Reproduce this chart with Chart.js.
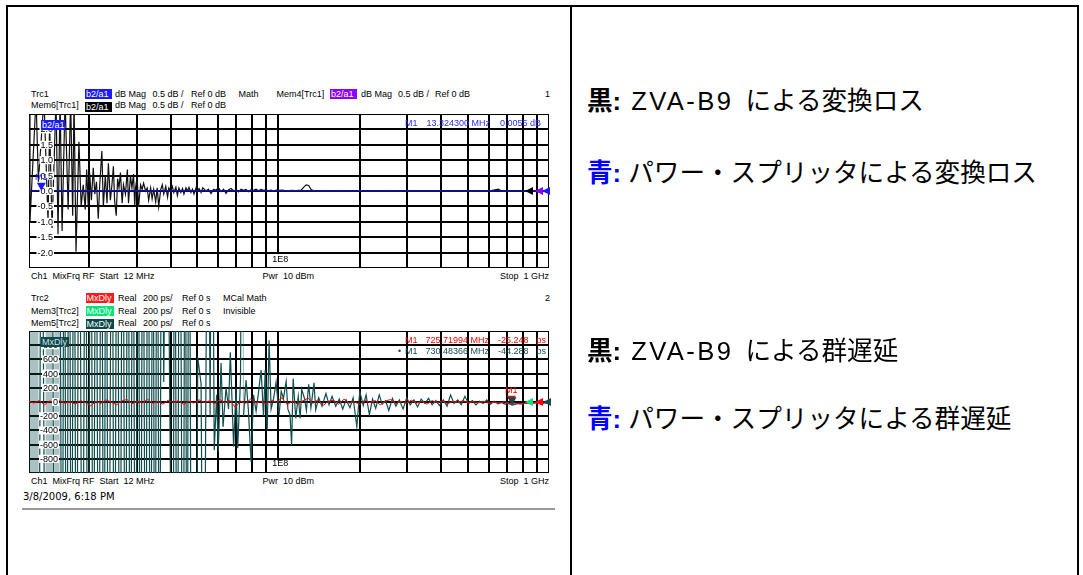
<!DOCTYPE html>
<html lang="ja">
<head>
<meta charset="utf-8">
<title>ZVA-B9 変換ロス / 群遅延</title>
<script src="https://cdn.jsdelivr.net/npm/chart.js@4.4.1/dist/chart.umd.min.js"></script>
<style>
  html, body { margin: 0; padding: 0; background: #fff; }
  body { position: relative; width: 1083px; height: 575px; overflow: hidden; font-family: "Liberation Sans", Arial, sans-serif; }
  .frame { position: absolute; left: 6px; top: 5px; width: 1069px; height: 600px; border: 2px solid #000; }
  .divider { position: absolute; left: 570px; top: 5px; width: 2px; height: 580px; background: #000; }
  .t { position: absolute; font-size: 9px; line-height: 11px; white-space: pre; color: #000; }
  .tag { position: absolute; font-size: 9px; line-height: 10px; height: 10px; color: #fff; padding: 0 1px; overflow: hidden; white-space: pre; }
  .date { position: absolute; left: 23px; top: 491px; font: 10px "DejaVu Sans", sans-serif; line-height: 12px; }
  .rule { position: absolute; left: 22px; top: 508px; width: 533px; height: 2px; background: #999; }
  canvas { position: absolute; }
  .jp { position: absolute; left: 587px; font-family: "Liberation Sans", "Noto Sans CJK JP", sans-serif; font-size: 25.6px; line-height: 30px; white-space: nowrap; color: #000; }
  .jp b { font-weight: bold; }
  .lat { letter-spacing: 2.4px; margin-left: 3px; margin-right: 5px; }
</style>
</head>
<body>
<div class="frame"></div>
<div class="divider"></div>

<!-- channel 1 header -->
<div class="t" style="left:31px;top:88.5px">Trc1</div>
<div class="tag" style="left:85px;top:89px;width:25px;background:#1a1aff">b2/a1</div>
<div class="t" style="left:115px;top:88.5px">dB Mag</div>
<div class="t" style="left:152.5px;top:88.5px">0.5 dB /</div>
<div class="t" style="left:191px;top:88.5px">Ref 0 dB</div>
<div class="t" style="left:238.5px;top:88.5px">Math</div>
<div class="t" style="left:276.5px;top:88.5px">Mem4[Trc1]</div>
<div class="tag" style="left:330px;top:89px;width:25px;background:#8c00ff">b2/a1</div>
<div class="t" style="left:361px;top:88.5px">dB Mag</div>
<div class="t" style="left:398px;top:88.5px">0.5 dB /</div>
<div class="t" style="left:435px;top:88.5px">Ref 0 dB</div>
<div class="t" style="left:545px;top:88.5px">1</div>
<div class="t" style="left:31px;top:100px">Mem6[Trc1]</div>
<div class="tag" style="left:85px;top:101.5px;width:25px;background:#000">b2/a1</div>
<div class="t" style="left:115px;top:100px">dB Mag</div>
<div class="t" style="left:152.5px;top:100px">0.5 dB /</div>
<div class="t" style="left:191px;top:100px">Ref 0 dB</div>

<div class="t" style="left:31px;top:271px">Ch1  MixFrq RF  Start  12 MHz</div>
<div class="t" style="left:262.5px;top:271px">Pwr  10 dBm</div>
<div class="t" style="right:534px;top:271px">Stop  1 GHz</div>

<!-- channel 2 header -->
<div class="t" style="left:31px;top:292.5px">Trc2</div>
<div class="tag" style="left:85.5px;top:293px;width:26px;background:#ff1a1a">MxDly</div>
<div class="t" style="left:118px;top:292.5px">Real</div>
<div class="t" style="left:143px;top:292.5px">200 ps/</div>
<div class="t" style="left:182px;top:292.5px">Ref 0 s</div>
<div class="t" style="left:223px;top:292.5px">MCal Math</div>
<div class="t" style="left:545px;top:292.5px">2</div>
<div class="t" style="left:31px;top:305.5px">Mem3[Trc2]</div>
<div class="tag" style="left:85.5px;top:306px;width:26px;background:#00e676">MxDly</div>
<div class="t" style="left:118px;top:305.5px">Real</div>
<div class="t" style="left:143px;top:305.5px">200 ps/</div>
<div class="t" style="left:182px;top:305.5px">Ref 0 s</div>
<div class="t" style="left:223px;top:305.5px">Invisible</div>
<div class="t" style="left:31px;top:318px">Mem5[Trc2]</div>
<div class="tag" style="left:85.5px;top:318.5px;width:26px;background:#0b4a4a">MxDly</div>
<div class="t" style="left:118px;top:318px">Real</div>
<div class="t" style="left:143px;top:318px">200 ps/</div>
<div class="t" style="left:182px;top:318px">Ref 0 s</div>

<div class="t" style="left:31px;top:476px">Ch1  MixFrq RF  Start  12 MHz</div>
<div class="t" style="left:262.5px;top:476px">Pwr  10 dBm</div>
<div class="t" style="right:534px;top:476px">Stop  1 GHz</div>
<div class="date">3/8/2009, 6:18 PM</div>
<div class="rule"></div>

<canvas id="lossScreen" width="532" height="166" style="left:23px;top:108px;width:532px;height:166px"></canvas>
<canvas id="delayScreen" width="532" height="154" style="left:23px;top:325px;width:532px;height:154px"></canvas>

<!-- in-grid annotations -->
<div class="tag" style="left:41px;top:119.5px;width:22px;background:#1a1aff">b2/a1</div>
<div class="t" style="left:405px;top:117.5px;color:#2b2bff">M1</div>
<div class="t" style="left:426.5px;top:117.5px;color:#2b2bff">13.324300 MHz</div>
<div class="t" style="left:500px;top:117.5px;color:#2b2bff">0.0055 dB</div>

<div class="tag" style="left:41px;top:336.5px;width:26px;background:#0b4a4a;color:#dde">MxDly</div>
<div class="t" style="left:405px;top:334.5px;color:#ff0000">M1</div>
<div class="t" style="left:425.5px;top:334.5px;color:#ff0000">725.71994 MHz</div>
<div class="t" style="left:498px;top:334.5px;color:#ff0000">-25.248</div>
<div class="t" style="left:536.5px;top:334.5px;color:#ff0000">ps</div>
<div class="t" style="left:398px;top:346px;color:#0e4e4e">•</div>
<div class="t" style="left:405px;top:346px;color:#0e4e4e">M1</div>
<div class="t" style="left:425.5px;top:346px;color:#0e4e4e">730.48366 MHz</div>
<div class="t" style="left:498px;top:346px;color:#0e4e4e">-44.288</div>
<div class="t" style="left:536.5px;top:346px;color:#0e4e4e">ps</div>

<!-- legend text -->
<div class="jp" style="top:86px"><b>黒:</b> <span class="lat">ZVA-B9</span> による変換ロス</div>
<div class="jp" style="top:158px"><b style="color:#0000ff">青:</b> パワー・スプリッタによる変換ロス</div>
<div class="jp" style="top:336px"><b>黒:</b> <span class="lat">ZVA-B9</span> による群遅延</div>
<div class="jp" style="top:404px"><b style="color:#0000ff">青:</b> パワー・スプリッタによる群遅延</div>

<script>
// sweep grid (MHz), log axis 12 MHz .. 1 GHz
const gridFreqMHz = [20, 30, 40, 50, 60, 70, 80, 90, 100, 200, 300, 400, 500, 600, 700, 800, 900];
const lossTicks = [2.0, 1.5, 1.0, 0.5, 0.0, -0.5, -1.0, -1.5, -2.0];
const delayTicks = [800, 600, 400, 200, 0, -200, -400, -600, -800];

// Trc1 b2/a1 (dB)
const trc1Freq = [12, 13.3243, 1000];
const trc1Loss = [0.0, 0.0055, 0.0];

// Mem6[Trc1] b2/a1 (dB)
const mem6Freq = [
  12.00, 12.10, 12.74, 13.00, 13.63, 14.11, 14.30, 14.60, 15.10, 15.36,
  15.63, 15.90, 16.31, 16.74, 17.10, 17.40, 17.60, 17.90, 18.35, 18.70,
  19.03, 19.36, 19.60, 19.86, 20.10, 20.40, 20.73, 21.00, 21.30, 21.63,
  21.90, 22.30, 22.58, 22.97, 23.30, 23.57, 23.97, 24.30, 24.60, 24.85,
  25.20, 25.50, 25.80, 26.12, 26.50, 26.80, 27.26, 27.70, 27.97, 28.45,
  28.80, 29.19, 29.50, 29.70, 30.10, 30.47, 31.00, 31.40, 31.80, 32.36,
  32.80, 33.20, 33.77, 34.20, 34.65, 35.25, 35.70, 36.17, 36.79, 37.30,
  37.75, 38.41, 39.00, 39.41, 40.09, 40.60, 41.13, 41.85, 42.40, 42.94,
  43.68, 44.30, 44.82, 45.59, 46.20, 46.78, 47.59, 48.20, 48.83, 49.67,
  50.30, 50.97, 51.85, 52.60, 54.11, 55.20, 56.46, 57.60, 58.91, 60.20,
  61.47, 62.80, 64.14, 65.50, 66.93, 68.40, 69.84, 71.30, 72.88, 74.40,
  76.04, 77.70, 79.35, 81.00, 82.80, 84.60, 86.40, 88.20, 90.15, 92.10,
  94.07, 96.10, 98.16, 100.7, 104.0, 106.9, 111.5, 116.4, 121.4, 124.0,
  126.7, 129.5, 132.2, 136.0, 144.0, 156.8, 170.7, 185.9, 202.4, 220.4,
  261.3, 309.9, 367.4, 435.6, 516.6, 612.5, 650.0, 667.0, 726.3, 861.2, 1000
];
const mem6Loss = [
  3.0, -1.0, 3.0, 0.3, 3.0, -1.0, 2.2, -1.2, 3.0, -1.4,
  3.0, -1.3, 3.0, -0.6, 3.0, -0.8, 3.0, -1.97, 1.6, -0.5,
  0.2, -0.6, 0.7, -0.5, 0.6, -0.3, 0.75, -0.1, 0.3, -0.9,
  0.2, 1.3, -0.5, 0.5, -0.4, 0.9, -0.3, 0.2, 0.8, -0.3,
  -0.8, 0.4, 0.1, 0.6, -0.4, 0.2, -0.1, 0.7, -0.4, 0.5,
  0.1, 0.55, -0.5, 0.1, 0.45, -0.5, 0.2, 0.05, 0.25, 0.0,
  0.1, -0.3, 0.1, -0.25, 0.05, -0.35, 0.1, -0.5, 0.05, 0.2,
  -0.1, 0.15, -0.2, 0.1, 0.0, 0.15, -0.05, 0.12, -0.15, 0.1,
  -0.05, 0.08, -0.1, 0.1, 0.0, 0.12, -0.05, 0.06, -0.1, 0.1,
  0.02, 0.08, -0.05, 0.1, 0.0, 0.06, -0.08, 0.05, 0.03, 0.1,
  -0.02, 0.06, -0.08, 0.04, 0.08, 0.0, 0.05, -0.03, 0.06, 0.02,
  0.05, -0.02, 0.04, 0.02, 0.06, 0.01, 0.05, 0.02, 0.04, 0.01,
  0.03, 0.0, 0.03, 0.02, 0.03, 0.0, 0.02, 0.01, 0.03, 0.12,
  0.2, 0.18, 0.05, 0.0, 0.01, 0.0, 0.01, 0.0, 0.01, 0.0,
  0.01, 0.0, 0.01, 0.0, 0.0, 0.01, 0.06, 0.0, 0.0, 0.0, 0.0
];

// Trc2 MxDly (ps)
const trc2Freq = [
  12.0, 12.5, 13.1, 13.7, 14.3, 14.9, 15.6, 16.3, 17.0, 17.8,
  18.6, 19.4, 20.3, 21.2, 22.1, 23.1, 24.2, 25.3, 26.4, 27.6,
  28.8, 30.1, 31.5, 32.9, 34.4, 35.9, 37.5, 39.2, 41.0, 42.8,
  44.7, 46.7, 48.8, 51.0, 53.3, 55.7, 58.2, 60.8, 63.5, 66.4,
  69.4, 72.5, 75.8, 79.2, 82.8, 86.5, 90.4, 94.5, 98.7, 103,
  108, 113, 118, 123, 129, 134, 140, 147, 153, 160,
  167, 175, 183, 191, 200, 209, 218, 228, 238, 249,
  260, 272, 284, 297, 310, 324, 339, 354, 370, 387,
  404, 422, 441, 461, 482, 504, 526, 550, 575, 601,
  628, 656, 686, 716, 725.71994, 748, 782, 817, 854, 892,
  932, 974, 1000
];
const trc2Delay = [
  10, -15, 20, -40, 15, -10, 25, -20, 5, -30,
  20, -10, -55, 10, -20, 30, -5, -40, 15, 35,
  -25, 10, -15, 40, -20, 5, -30, 25, -10, 20,
  -35, 10, -15, 30, -5, 15, -25, 35, -10, 20,
  -80, 15, -20, 45, -15, 10, -30, 25, -5, 60,
  -40, 20, -35, 15, 55, -20, 30, -45, 10, 25,
  -30, 40, -15, 5, -35, 30, -10, 20, -40, 15,
  35, -25, 10, -20, 25, -15, 5, -30, 20, -10,
  15, -25, 10, -5, 20, -15, 5, -10, 10, -20,
  0, -15, 5, -20, -25.248, -15, -30, -20, -25, -15,
  -20, -10, -15
];

// Mem5[Trc2] MxDly (ps); +-5000 runs off the grid
const mem5Freq = [
  12.00, 12.05, 12.10, 12.16, 12.22, 12.29, 12.36, 12.44, 12.52, 12.61,
  12.70, 12.80, 12.90, 13.00, 13.35, 13.85, 13.93, 14.01, 14.09, 14.17,
  14.25, 14.33, 14.41, 14.50, 14.58, 14.90, 15.00, 15.09, 15.18, 15.27,
  15.36, 15.45, 15.54, 15.90, 16.20, 16.50, 16.90, 17.20, 17.60, 17.95,
  18.40, 18.90, 19.40, 19.80, 20.30, 20.73, 21.20, 21.70, 22.20, 22.70,
  23.10, 23.60, 24.30, 24.80, 25.40, 26.00, 26.60, 27.26, 27.80, 28.45,
  29.00, 29.70, 30.30, 31.00, 31.60, 32.36, 33.00, 33.77, 34.40, 35.00,
  35.70, 36.40, 37.10, 37.75, 38.70, 40.80, 41.40, 42.30, 43.20, 44.50,
  45.30, 46.00, 46.78, 47.90, 49.67, 50.40, 51.85, 53.00, 55.00, 56.00,
  56.90, 58.00, 59.20, 60.00, 61.47, 62.50, 64.14, 65.50, 66.50, 68.40,
  69.84, 70.80, 72.50, 73.80, 74.40, 76.04, 77.50, 79.35, 81.00, 82.80,
  84.60, 86.40, 88.20, 89.50, 91.00, 92.50, 94.07, 96.10, 98.16, 100.7,
  102.5, 104.5, 106.9, 108.5, 110.5, 112.0, 113.5, 116.0, 118.5, 120.5,
  122.0, 125.0, 127.0, 129.5, 132.0, 135.5, 137.5, 141.0, 145.0, 150.0,
  154.0, 158.0, 163.0, 168.0, 173.0, 178.0, 184.0, 189.0, 195.0, 200.0,
  206.0, 211.0, 217.0, 223.0, 229.0, 236.0, 242.0, 249.0, 256.0, 264.0,
  272.0, 280.0, 289.0, 298.0, 307.0, 317.0, 327.0, 337.0, 348.0, 359.0,
  370.0, 382.0, 394.0, 407.0, 420.0, 433.0, 446.0, 460.0, 474.0, 489.0,
  505.0, 521.0, 537.0, 554.0, 571.0, 589.0, 608.0, 627.0, 647.0, 667.0,
  688.0, 709.0, 730.48366, 753.0, 777.0, 801.0, 826.0, 852.0, 879.0, 907.0,
  935.0, 965.0, 1000
];
const mem5Delay = [
  5000, -5000, 5000, -5000, 5000, -5000, 5000, -5000, 5000, -5000,
  5000, -5000, 5000, -5000, 5000, -5000, 5000, -5000, 5000, -5000,
  5000, -5000, 5000, -5000, 5000, -5000, 5000, -5000, 5000, -5000,
  5000, -5000, 5000, -5000, 5000, -5000, 5000, -5000, 5000, -5000,
  5000, -5000, 5000, -5000, 5000, -5000, 5000, -5000, 5000, -5000,
  5000, -5000, 5000, -5000, 5000, -5000, 5000, -5000, 5000, -5000,
  5000, -5000, 5000, -5000, 5000, -5000, 5000, -5000, 5000, -5000,
  5000, -5000, 5000, 280, 5000, -5000, 5000, -5000, 5000, -5000,
  5000, -5000, 5000, -5000, -5000, 630, 260, -5000, 5000, -200,
  5000, -680, 100, -700, 550, -350, 200, -100, 700, -630,
  200, -650, 300, 5000, -200, 310, -100, -840, 100, -130,
  150, 450, -200, 450, -400, 870, -100, 50, 280, -180,
  150, 50, 290, -100, -180, -605, 330, -230, 80, -230,
  180, 50, -120, 250, -80, 270, -110, 60, -60, 120,
  -40, 80, -60, 40, -100, 30, -80, 60, -347, 150,
  -50, 100, -180, 40, -90, 100, -30, 20, -120, 50,
  -60, 30, -100, 60, -40, 30, -70, 40, -20, 50,
  -40, 20, -50, 30, -60, 100, -20, 30, -40, 80,
  -20, 20, -40, 10, -20, 30, -30, 10, -25, -5,
  -30, -20, -44.288, -30, -15, -25, -10, -20, -5, -15,
  -25, -10, -20
];

const trc1Marker = { freq: 13.3243, value: 0.0055 };
const trc2Marker = { freq: 725.71994, value: -25.248 };
const mem5Marker = { freq: 730.48366, value: -44.288 };

function seriesPoints(freqs, values) {
  return freqs.map((f, i) => ({ x: f, y: values[i] }));
}

// grid labels, frame, reference arrows and markers of one analyzer channel
function screenPlugin(cfg) {
  return {
    id: 'screen',
    beforeDatasetsDraw(chart) {
      const { ctx, chartArea: a } = chart;
      const xs = chart.scales.x, ys = chart.scales.y;
      ctx.save();
      ctx.strokeStyle = '#000';
      ctx.lineWidth = 1;
      ctx.strokeRect(a.left + 0.5, a.top + 0.5, a.right - a.left - 1, a.bottom - a.top - 1);

      // decade label below the lowest grid line
      ctx.font = '9px "Liberation Sans", Arial, sans-serif';
      ctx.textBaseline = 'middle';
      const x8 = xs.getPixelForValue(100);
      const yLow = ys.getPixelForValue(cfg.ticks[cfg.ticks.length - 1]);
      ctx.fillStyle = '#fff';
      ctx.fillRect(x8 - 8, yLow + 1.5, 19, a.bottom - yLow - 2.5);
      ctx.fillStyle = '#000';
      ctx.textAlign = 'center';
      ctx.fillText('1E8', x8 + 2, yLow + cfg.decadeDy);
      ctx.restore();
    },
    afterDatasetsDraw(chart) {
      const { ctx, chartArea: a } = chart;
      const xs = chart.scales.x, ys = chart.scales.y;
      ctx.save();
      ctx.font = '9px "Liberation Sans", Arial, sans-serif';
      ctx.textBaseline = 'middle';

      // value labels on white boxes inside the grid
      ctx.textAlign = 'right';
      const rx = a.left + cfg.labelRight;
      cfg.ticks.forEach(v => {
        const py = ys.getPixelForValue(v);
        const txt = v.toFixed(cfg.decimals);
        const w = ctx.measureText(txt).width;
        ctx.fillStyle = '#fff';
        ctx.fillRect(rx - w - 1, py - 4, w + 2, 8);
        ctx.fillStyle = '#000';
        ctx.fillText(txt, rx, py + 0.5);
      });

      // reference position arrows at the right edge
      const yRef = ys.getPixelForValue(0);
      cfg.refArrows.forEach(r => {
        const tip = a.right - r.inset;
        ctx.fillStyle = r.color;
        ctx.beginPath();
        ctx.moveTo(tip, yRef);
        ctx.lineTo(tip + 8, yRef - 4);
        ctx.lineTo(tip + 8, yRef + 4);
        ctx.closePath();
        ctx.fill();
      });

      ctx.textAlign = 'center';
      cfg.markers.forEach(m => {
        const px = xs.getPixelForValue(m.freq);
        const py = ys.getPixelForValue(m.value);
        ctx.fillStyle = m.color;
        ctx.beginPath();
        ctx.moveTo(px, py);
        ctx.lineTo(px - 4.5, py - 8);
        ctx.lineTo(px + 4.5, py - 8);
        ctx.closePath();
        ctx.fill();
        if (m.label) ctx.fillText(m.label, px, py - 13);
      });
      ctx.restore();
    }
  };
}

function makeScreen(canvasId, datasets, yMin, yMax, ticks, plugin) {
  const grid = { color: '#000', lineWidth: 2, drawTicks: false };
  return new Chart(document.getElementById(canvasId), {
    type: 'line',
    data: { datasets },
    options: {
      responsive: false,
      animation: false,
      events: [],
      layout: { padding: 6 },
      elements: { point: { radius: 0 }, line: { tension: 0 } },
      plugins: { legend: { display: false }, tooltip: { enabled: false } },
      scales: {
        x: {
          type: 'logarithmic', min: 12, max: 1000,
          afterBuildTicks: s => { s.ticks = gridFreqMHz.map(v => ({ value: v })); },
          ticks: { display: false }, border: { display: false }, grid
        },
        y: {
          min: yMin, max: yMax,
          afterBuildTicks: s => { s.ticks = ticks.map(v => ({ value: v })); },
          ticks: { display: false }, border: { display: false }, grid
        }
      }
    },
    plugins: [plugin]
  });
}

makeScreen('lossScreen', [
  { label: 'Trc1', data: seriesPoints(trc1Freq, trc1Loss), borderColor: '#1a1aff', borderWidth: 1 },
  { label: 'Mem6[Trc1]', data: seriesPoints(mem6Freq, mem6Loss), borderColor: '#111', borderWidth: 1.2 }
], -2.5, 2.5, lossTicks, screenPlugin({
  ticks: lossTicks, decimals: 1, labelRight: 24, decadeDy: 6.5,
  refArrows: [
    { color: '#000', inset: 24 },
    { color: '#8c00ff', inset: 14 },
    { color: '#1a1aff', inset: 7 }
  ],
  markers: [{ freq: trc1Marker.freq, value: trc1Marker.value, color: '#1a1aff', label: 'M1' }]
}));

makeScreen('delayScreen', [
  { label: 'Trc2', data: seriesPoints(trc2Freq, trc2Delay), borderColor: '#ff0000', borderWidth: 1 },
  {
    label: 'Mem5[Trc2]', data: seriesPoints(mem5Freq, mem5Delay), borderColor: '#0e4e4e', borderWidth: 1.2,
    segment: { borderColor: c => (c.p1.x - c.p0.x < 1.4 ? 'rgba(14,78,78,0.35)' : undefined) }
  }
], -1000, 1000, delayTicks, screenPlugin({
  ticks: delayTicks, decimals: 0, labelRight: 29, decadeDy: 5,
  refArrows: [
    { color: '#00e676', inset: 24 },
    { color: '#ff0000', inset: 14 },
    { color: '#0e4e4e', inset: 6 }
  ],
  markers: [
    { freq: trc2Marker.freq, value: trc2Marker.value, color: '#ff0000', label: 'M1' },
    { freq: mem5Marker.freq, value: mem5Marker.value, color: '#0e4e4e' }
  ]
}));
</script>
</body>
</html>
